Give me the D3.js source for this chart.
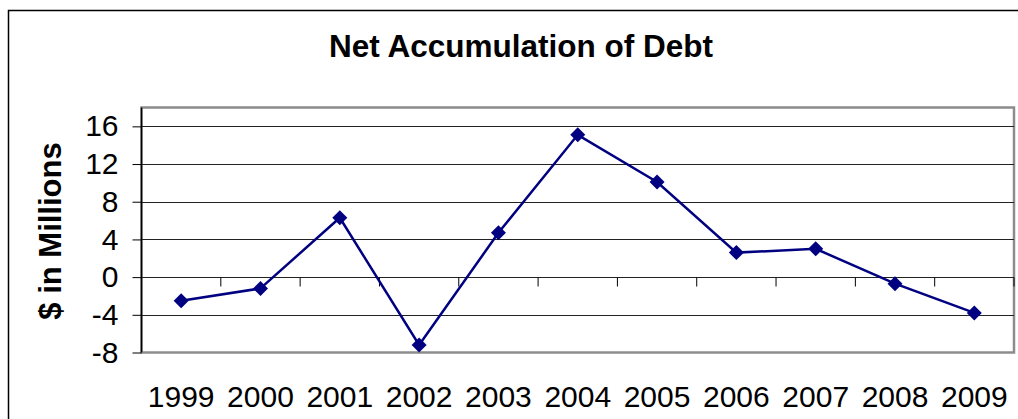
<!DOCTYPE html>
<html>
<head>
<meta charset="utf-8">
<script src="https://cdn.jsdelivr.net/npm/d3@7"></script>
<style>
    body { margin: 0; background: #fff; }
    svg { display: block; font-family: "Liberation Sans", Arial, sans-serif; }
</style>
</head>
<body>
<div id="chart"></div>
<script>
// chart data
const years = ["1999", "2000", "2001", "2002", "2003", "2004", "2005", "2006", "2007", "2008", "2009"];
const debt = [-2.5, -1.2, 6.3, -7.2, 4.7, 15.1, 10.1, 2.6, 3.0, -0.7, -3.8];
const yTicks = [-8, -4, 0, 4, 8, 12, 16];

const width = 1018, height = 419;
const plot = { left: 141.5, top: 107.5, right: 1014, bottom: 352.5 };

let svg = d3.select("#chart").append("svg")
    .attr("width", width)
    .attr("height", height);

// outer frame
svg.append("rect")
    .attr("x", 8.5).attr("y", 10.5)
    .attr("width", 1030).attr("height", 430)
    .attr("fill", "none")
    .attr("stroke", "#000")
    .attr("stroke-width", 1.5);

let x = d3.scaleBand()
    .domain(years)
    .range([plot.left, plot.right]);

let y = d3.scaleLinear()
    .domain([-8, 18])
    .range([plot.bottom, plot.top]);

// plot area border
svg.append("rect")
    .attr("x", plot.left).attr("y", plot.top)
    .attr("width", plot.right - plot.left)
    .attr("height", plot.bottom - plot.top)
    .attr("fill", "#fff")
    .attr("stroke", "#8c8c8c")
    .attr("stroke-width", 2.5);

// gridlines
svg.append("g")
    .selectAll("line")
    .data(yTicks.filter(d => d > -8))
    .enter()
    .append("line")
    .attr("x1", plot.left).attr("x2", plot.right)
    .attr("y1", d => Math.round(y(d)) + 0.5)
    .attr("y2", d => Math.round(y(d)) + 0.5)
    .attr("stroke", "#222")
    .attr("stroke-width", 1);

// y axis
let yAxis = d3.axisLeft(y)
    .tickValues(yTicks)
    .tickFormat(d => String(d))
    .tickSize(9)
    .tickPadding(14);
let yG = svg.append("g")
    .attr("transform", `translate(${plot.left}, 0)`)
    .call(yAxis);
yG.select(".domain").remove();
yG.append("line")
    .attr("x1", 0).attr("x2", 0)
    .attr("y1", plot.top).attr("y2", plot.bottom)
    .attr("stroke", "#000").attr("stroke-width", 1.5);
yG.selectAll(".tick line").attr("stroke", "#000");
yG.selectAll(".tick text")
    .attr("fill", "#000")
    .style("font-size", "30px")
    .style("font-family", "'Liberation Sans', Arial, sans-serif");

// category ticks on the zero line
let zeroY = Math.round(y(0)) + 0.5;
svg.append("g")
    .selectAll("line")
    .data(years)
    .enter()
    .append("line")
    .attr("x1", d => x(d) + x.bandwidth())
    .attr("x2", d => x(d) + x.bandwidth())
    .attr("y1", zeroY).attr("y2", zeroY + 9)
    .attr("stroke", "#000")
    .attr("stroke-width", 1);

// x labels
svg.append("g")
    .selectAll("text")
    .data(years)
    .enter()
    .append("text")
    .attr("x", d => x(d) + x.bandwidth() / 2)
    .attr("y", 407)
    .attr("text-anchor", "middle")
    .style("font-size", "30px")
    .text(d => d);

// series line
let line = d3.line()
    .x((d, i) => x(years[i]) + x.bandwidth() / 2)
    .y(d => y(d));

svg.append("path")
    .datum(debt)
    .attr("d", line)
    .attr("fill", "none")
    .attr("stroke", "#000080")
    .attr("stroke-width", 2.5);

// diamond markers
svg.append("g")
    .selectAll("path")
    .data(debt)
    .enter()
    .append("path")
    .attr("transform", (d, i) => `translate(${x(years[i]) + x.bandwidth() / 2}, ${y(d)})`)
    .attr("d", "M0,-7.5L7.5,0L0,7.5L-7.5,0Z")
    .attr("fill", "#000080");

// title
svg.append("text")
    .attr("x", 521)
    .attr("y", 57)
    .attr("text-anchor", "middle")
    .style("font-size", "31.5px")
    .style("font-weight", "bold")
    .text("Net Accumulation of Debt");

// y axis title
svg.append("text")
    .attr("transform", `translate(61, 231) rotate(-90)`)
    .attr("text-anchor", "middle")
    .style("font-size", "31px")
    .style("font-weight", "bold")
    .text("$ in Millions");
</script>
</body>
</html>
